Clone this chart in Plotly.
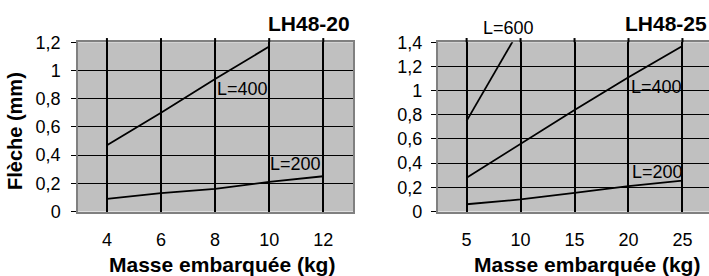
import plotly.graph_objects as go

# ---- data ----
mass_lh20 = [4, 6, 8, 10, 12]
l400_lh20 = [0.47, 0.70, 0.94, 1.17]
l200_lh20 = [0.09, 0.13, 0.16, 0.21, 0.25]

mass_lh25 = [5, 10, 15, 20, 25]
l600_lh25 = [0.75, 1.52]
l400_lh25 = [0.28, 0.56, 0.84, 1.11, 1.37]
l200_lh25 = [0.06, 0.10, 0.155, 0.21, 0.255]

y_ticks_lh20 = [0, 0.2, 0.4, 0.6, 0.8, 1.0, 1.2]
y_ticks_lh25 = [0, 0.2, 0.4, 0.6, 0.8, 1.0, 1.2, 1.4]

FONT = "Liberation Sans, Arial, sans-serif"
W, H = 709, 276

fig = go.Figure()
line = dict(color="black", width=1.8)

fig.add_trace(go.Scatter(x=mass_lh20[:len(l400_lh20)], y=l400_lh20, mode="lines", line=line, xaxis="x", yaxis="y", name="L=400"))
fig.add_trace(go.Scatter(x=mass_lh20, y=l200_lh20, mode="lines", line=line, xaxis="x", yaxis="y", name="L=200"))
fig.add_trace(go.Scatter(x=mass_lh25[:len(l600_lh25)], y=l600_lh25, mode="lines", line=line, xaxis="x2", yaxis="y2", name="L=600"))
fig.add_trace(go.Scatter(x=mass_lh25, y=l400_lh25, mode="lines", line=line, xaxis="x2", yaxis="y2", name="L=400"))
fig.add_trace(go.Scatter(x=mass_lh25, y=l200_lh25, mode="lines", line=line, xaxis="x2", yaxis="y2", name="L=200"))

ydom = [1 - 211.5 / H, 1 - 42.3 / H]

def xaxis(domain, rng, vals, anchor):
    return dict(domain=domain, range=rng, tickvals=vals, showgrid=True, gridcolor="black",
                gridwidth=2, zeroline=False, showline=True, linecolor="#808080", linewidth=1.5,
                mirror=True, ticks="", ticklabelstandoff=11, anchor=anchor, automargin=False,
                tickfont=dict(family=FONT, size=18, color="black"))

def yaxis(rng, vals, anchor, standoff):
    return dict(domain=ydom, range=rng, tickvals=vals, showgrid=True, gridcolor="black",
                gridwidth=1, zeroline=False, showline=True, linecolor="#808080", linewidth=1.5,
                mirror=True, ticks="outside", ticklen=5, tickcolor="black", tickwidth=1.2,
                ticklabelstandoff=standoff, anchor=anchor, automargin=False,
                tickfont=dict(family=FONT, size=18, color="black"))

fig.update_layout(
    width=W, height=H, margin=dict(l=0, r=0, t=0, b=0, autoexpand=False),
    paper_bgcolor="white", plot_bgcolor="#C0C0C0",
    showlegend=False, separators=", ",
    xaxis=xaxis([78 / W, 353 / W], [2.93, 13.1], mass_lh20, "y"),
    yaxis=yaxis([0, 1.2], y_ticks_lh20, "x", 7),
    xaxis2=xaxis([437.7 / W, 1.0], [2.32, 27.46], mass_lh25, "y2"),
    yaxis2=yaxis([0, 1.4], y_ticks_lh25, "x2", 5),
)

# small extension of vertical grid lines above the plot area
shapes = []
for v in mass_lh20:
    shapes.append(dict(type="line", xref="x", yref="y domain", x0=v, x1=v, y0=1, y1=1.025,
                       line=dict(color="black", width=2)))
for v in mass_lh25:
    shapes.append(dict(type="line", xref="x2", yref="y2 domain", x0=v, x1=v, y0=1, y1=1.025,
                       line=dict(color="black", width=2)))
fig.update_layout(shapes=shapes)

bold = dict(family=FONT, size=21, color="black")
reg = dict(family=FONT, size=18, color="black")
y600 = 1 + (42.3 - 28) / 169.2
ann = [
    dict(text="<b>LH48-20</b>", x=351 / W, y=1 - 24 / H, xref="paper", yref="paper", xanchor="right", yanchor="middle", showarrow=False, font=bold),
    dict(text="<b>LH48-25</b>", x=708 / W, y=1 - 24 / H, xref="paper", yref="paper", xanchor="right", yanchor="middle", showarrow=False, font=bold),
    dict(text="<b>Masse embarquée (kg)</b>", x=222 / W, y=1 - 264 / H, xref="paper", yref="paper", xanchor="center", yanchor="middle", showarrow=False, font=bold),
    dict(text="<b>Masse embarquée (kg)</b>", x=587 / W, y=1 - 264 / H, xref="paper", yref="paper", xanchor="center", yanchor="middle", showarrow=False, font=bold),
    dict(text="<b>Flèche (mm)</b>", x=15 / W, y=1 - 131 / H, xref="paper", yref="paper", xanchor="center", yanchor="middle", textangle=-90, showarrow=False, font=dict(family=FONT, size=20, color="black")),
    dict(text="L=400", x=8.05, y=0.867, xref="x", yref="y", xanchor="left", yanchor="middle", showarrow=False, font=reg),
    dict(text="L=200", x=10.0, y=0.334, xref="x", yref="y", xanchor="left", yanchor="middle", showarrow=False, font=reg),
    dict(text="L=600", x=6.4, y=y600, xref="x2", yref="y2 domain", xanchor="left", yanchor="middle", showarrow=False, font=reg),
    dict(text="L=400", x=20.15, y=1.03, xref="x2", yref="y2", xanchor="left", yanchor="middle", showarrow=False, font=reg),
    dict(text="L=200", x=20.25, y=0.324, xref="x2", yref="y2", xanchor="left", yanchor="middle", showarrow=False, font=reg),
]
for a in ann:
    a["borderpad"] = 0
fig.update_layout(annotations=ann)

fig.write_html("out.html", config={"displayModeBar": False},
               post_script="document.body.style.margin='0';document.body.style.overflow='hidden';")
